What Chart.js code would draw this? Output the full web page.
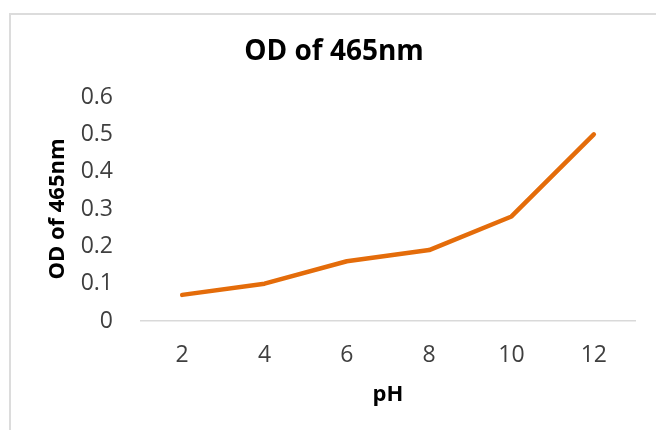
<!DOCTYPE html>
<html>
<head>
<meta charset="utf-8">
<script src="https://cdn.jsdelivr.net/npm/chart.js@4/dist/chart.umd.min.js"></script>
<style>
  html, body { margin: 0; padding: 0; background: #fff; }
  #wrap { position: relative; width: 656px; height: 430px; overflow: hidden; }
  #frame {
    position: absolute; left: 9px; top: 13px; width: 700px; height: 500px;
    border-left: 2px solid #dcdcdc; border-top: 2px solid #dcdcdc;
  }
  #c { position: absolute; left: 0; top: 0; }
</style>
</head>
<body>
<div id="wrap">
  <div id="frame"></div>
  <canvas id="c" width="656" height="430"></canvas>
</div>
<script>
// pH levels tested and the optical density measured at 465 nm
const phLevels = ['2', '4', '6', '8', '10', '12'];
const odValues = [0.07, 0.10, 0.16, 0.19, 0.28, 0.50];
const yTickLabels = ['0', '0.1', '0.2', '0.3', '0.4', '0.5', '0.6'];

const FONT = "'Open Sans', 'Liberation Sans', sans-serif";
const TICK_COLOR = '#3f3f3f';

new Chart(document.getElementById('c'), {
  type: 'line',
  data: {
    labels: phLevels,
    datasets: [{
      data: odValues,
      borderColor: '#E46C0A',
      borderWidth: 4.5,
      borderCapStyle: 'round',
      borderJoinStyle: 'round',
      pointRadius: 0,
      tension: 0,
      fill: false
    }]
  },
  options: {
    responsive: false,
    animation: false,
    events: [],
    layout: { padding: { left: 33, right: 21, top: 0, bottom: 0 } },
    plugins: {
      legend: { display: false },
      tooltip: { enabled: false },
      title: {
        display: true,
        text: 'OD of 465nm',
        color: '#000',
        font: { family: FONT, size: 28, weight: 'bold', lineHeight: 1.2 },
        padding: { top: 35, bottom: 28.4 }
      }
    },
    scales: {
      x: {
        offset: true,
        grid: { display: false, drawTicks: false },
        border: { display: true, color: '#d9d9d9', width: 1.5 },
        ticks: {
          color: TICK_COLOR,
          padding: 21,
          font: { family: FONT, size: 23, lineHeight: 1.2 }
        },
        title: {
          display: true,
          text: 'pH',
          color: '#000',
          font: { family: FONT, size: 22, weight: 'bold', lineHeight: 1.2 },
          padding: { top: 0, bottom: 22 }
        },
        afterFit(scale) { scale.height = 109; }
      },
      y: {
        min: 0,
        max: 0.6,
        grid: { display: false, drawTicks: false },
        border: { display: false },
        ticks: {
          stepSize: 0.1,
          color: TICK_COLOR,
          padding: 28,
          font: { family: FONT, size: 23, lineHeight: 1.2 },
          callback: (v, i) => yTickLabels[i]
        },
        title: {
          display: true,
          text: 'OD of 465nm',
          color: '#000',
          font: { family: FONT, size: 22, weight: 'bold', lineHeight: 1.2 },
          padding: { top: 12, bottom: 0 }
        },
        afterFit(scale) { scale.width = 108; }
      }
    }
  }
});
</script>
</body>
</html>
